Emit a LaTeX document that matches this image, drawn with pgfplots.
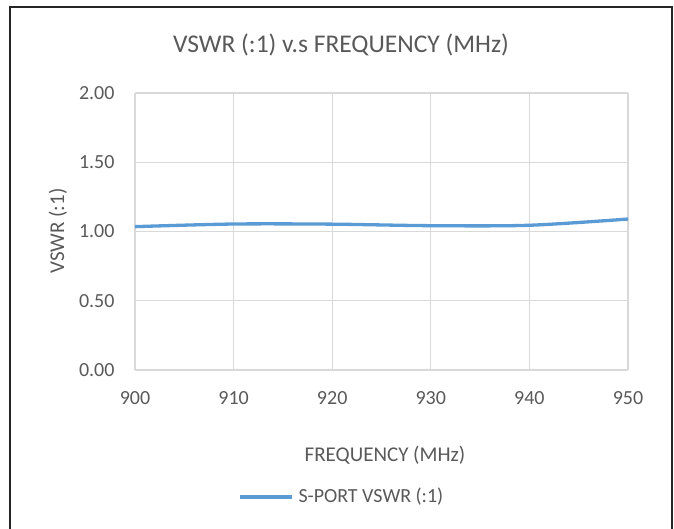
\documentclass[border=0pt]{standalone}
\usepackage{pgfplots}
\pgfplotsset{compat=1.18}
\usepackage{fontspec}
\setmainfont{Carlito}
\definecolor{txt}{HTML}{595959}
\definecolor{grd}{HTML}{D9D9D9}
\definecolor{ser}{HTML}{5B9BD5}
\begin{document}
\begin{tikzpicture}[x=1pt,y=1pt]
\useasboundingbox (0,0) rectangle (674,529);
\draw[line width=2.5pt,black!85] (10,-5) -- (10,522) -- (672,522) -- (672,-5);
\begin{axis}[
  at={(135pt,159pt)}, anchor=south west,
  scale only axis, width=493pt, height=277pt,
  xmin=900, xmax=950, ymin=0, ymax=2,
  xtick={900,910,...,950}, ytick={0,0.5,...,2},
  grid=major, major grid style={grd, line width=1.2pt},
  axis line style={draw=none},
  tick style={draw=none},
  /pgf/number format/assume math mode=true,
  yticklabel style={/pgf/number format/fixed,/pgf/number format/fixed zerofill,/pgf/number format/precision=2, xshift=-17pt},
  xticklabel style={/pgf/number format/1000 sep={}, yshift=-18pt},
  ticklabel style={font=\fontsize{20}{24}\selectfont, text=txt},
  clip=false,
]
\draw[grd, line width=1.2pt] (axis cs:900,0) -- (axis cs:950,0);
\addplot[ser, line width=3.3pt, smooth, tension=0.5] coordinates {
(900,1.035) (910,1.054) (920,1.053) (930,1.042) (940,1.045) (950,1.09)
};
\end{axis}
\node[text=txt, font=\fontsize{25.5}{30}\selectfont] at (341,484) {VSWR (:1) v.s FREQUENCY (MHz)};
\node[text=txt, font=\fontsize{21}{25}\selectfont, rotate=90] at (58,298) {VSWR (:1)};
\node[text=txt, font=\fontsize{21}{25}\selectfont] at (385,74) {FREQUENCY (MHz)};
\draw[ser, line width=3.3pt] (240,32) -- (292,32);
\node[text=txt, font=\fontsize{20}{24}\selectfont, anchor=west] at (295,32) {S-PORT VSWR (:1)};
\end{tikzpicture}
\end{document}
